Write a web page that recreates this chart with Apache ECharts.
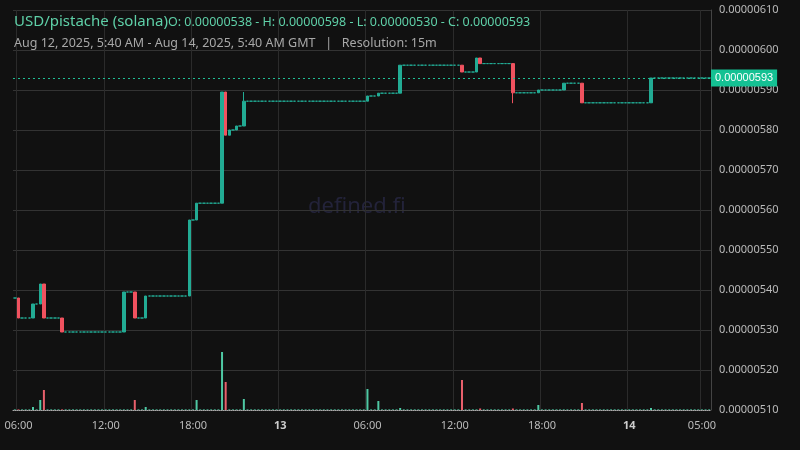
<!DOCTYPE html>
<html><head><meta charset="utf-8">
<script src="https://cdn.jsdelivr.net/npm/echarts@6/dist/echarts.min.js"></script>
<style>html,body{margin:0;background:#111111;}#c{width:800px;height:450px;}</style>
</head><body><div id="c"></div>
<script>
// prices in units of 1e-8 USD
var candleCount = 192;           // 15m candles from Aug 12 05:45
var startPrice = 538;
// [index, open, close, high, low]
var events = [
  [1,538,533,538,533],[5,533,536.5,536.5,533],[7,536.5,541.5,541.5,536.5],[8,541.5,533,541.5,533],
  [13,533,529.5,533,529.5],[30,529.5,539.5,539.5,529.5],[33,539.5,533,539.5,533],[36,533,538.5,538.5,533],
  [48,538.5,557.5,557.5,538.5],[50,557.5,561.7,561.7,557.5],[57,561.7,589.5,589.5,561.7],
  [58,589.5,578.7,589.5,578.7],[59,578.7,580,580,578.7],[61,580,581,581,580],[63,581,587.2,589.5,581],
  [97,587.2,588.5,588.5,587.2],[100,588.5,589.2,589.2,588.5],[106,589.2,596.2,596.2,589.2],
  [123,596.2,594.5,596.2,594.5],[127,594.5,598,598,594.5],[128,598,596.6,598,596.6],
  [137,596.6,589.3,596.6,586.7],[144,589.3,590,590,589.3],[151,590,591.7,591.7,590],
  [156,591.7,586.8,591.7,586.8],[175,586.8,593,593,586.8]
];
// [index, volume (relative)]
var volumes = [
  [5,3],[7,10],[8,20],[33,10],[36,3],[50,10],[57,58],[58,28],[63,11],[97,21],[100,9],[106,2],
  [123,30],[128,1.5],[137,1.5],[144,5],[156,7],[175,2]
];
var lastPrice = 593;
var yTicks = {min:510, max:610, interval:10};

var cats = [], ohlc = [], vol = [];
var t0 = Date.UTC(2025,7,12,5,45);
var ev = {}; events.forEach(function(e){ev[e[0]]=e;});
var vv = {}; volumes.forEach(function(v){vv[v[0]]=v[1];});
var p = startPrice;
for (var i=0;i<candleCount;i++){
  var d = new Date(t0 + i*15*60000);
  cats.push(d.toISOString());
  var e = ev[i];
  var c;
  if (e){ c=[e[1],e[2],e[4],e[3]]; p=e[2]; } else { c=[p,p,p,p]; }
  ohlc.push(c);
  var up = c[1]>=c[0];
  vol.push({value: vv[i]||0.6, itemStyle:{color: up?'#4fc9a4':'#e8606c'}});
}
function isTick(idx){
  var d = new Date(cats[idx]);
  return d.getUTCMinutes()===0 && d.getUTCHours()%6===0 || (d.getUTCMinutes()===0 && d.getUTCHours()===5 && d.getUTCDate()===14);
}
var chart = echarts.init(document.getElementById('c'));
chart.setOption({
  backgroundColor:'#111111',
  animation:false,
  title:[{text:'USD/pistache (solana)',left:9,top:9,textStyle:{color:'#5fd0a8',fontSize:15,fontWeight:'normal',fontFamily:'Noto Sans'}},
         {text:'O: 0.00000538 - H: 0.00000598 - L: 0.00000530 - C: 0.00000593',left:163,top:11,textStyle:{color:'#5fd0a8',fontSize:12.5,fontWeight:'normal',fontFamily:'Noto Sans'}},
         {text:'Aug 12, 2025, 5:40 AM - Aug 14, 2025, 5:40 AM GMT   |   Resolution: 15m',left:9,top:32,textStyle:{color:'#a8a8a8',fontSize:12.5,fontWeight:'normal',fontFamily:'Noto Sans'}}],
  graphic:[{type:'text',left:308,top:196,silent:true,style:{text:'defined.fi',fill:'#23233a',fontSize:22,fontFamily:'Noto Sans'}}],
  grid:[{left:13,right:89,top:10,bottom:40},{left:13,right:89,top:10,bottom:40}],
  xAxis:[{type:'category',data:cats,gridIndex:0,boundaryGap:true,
    axisLine:{show:true,lineStyle:{color:'#aaaaaa',type:'dotted'}},axisTick:{show:false},
    axisLabel:{interval:function(i){return isTick(i);},color:'#bbbbbb',fontSize:11,margin:10,fontFamily:'Noto Sans',
      formatter:function(v){var d=new Date(v);var h=d.getUTCHours();
        if(h===0) return '{b|'+d.getUTCDate()+'}';
        return ('0'+h).slice(-2)+':00';},
      rich:{b:{fontWeight:'bold',color:'#cccccc',fontSize:11}}},
    splitLine:{show:true,interval:function(i){return isTick(i);},lineStyle:{color:'#2b2b2b'}}},
    {type:'category',data:cats,gridIndex:1,show:false}],
  yAxis:[{type:'value',gridIndex:0,position:'right',min:yTicks.min,max:yTicks.max,interval:yTicks.interval,
    axisLine:{show:true,lineStyle:{color:'#444'}},axisTick:{show:false},
    splitLine:{lineStyle:{color:'#333333'}},
    axisLabel:{color:'#bbbbbb',fontSize:11,margin:8,fontFamily:'Noto Sans',formatter:function(v){return (v/1e8).toFixed(8);}}},
    {type:'value',gridIndex:1,min:0,max:400,show:false}],
  series:[{type:'candlestick',data:ohlc,xAxisIndex:0,yAxisIndex:0,barWidth:3,
    itemStyle:{color:'#22ab94',color0:'#f0525f',borderColor:'#22ab94',borderColor0:'#f0525f',borderWidth:1},
    markLine:{symbol:'none',silent:true,data:[{yAxis:lastPrice}],
      lineStyle:{color:'#1fbf95',type:[2,3],width:1},
      label:{position:'end',formatter:function(){return (lastPrice/1e8).toFixed(8);},color:'#ffffff',backgroundColor:'#14c193',padding:[3,4],fontSize:11,distance:0}}},
    {type:'bar',data:vol,xAxisIndex:1,yAxisIndex:1,barWidth:2}]
});
</script></body></html>
